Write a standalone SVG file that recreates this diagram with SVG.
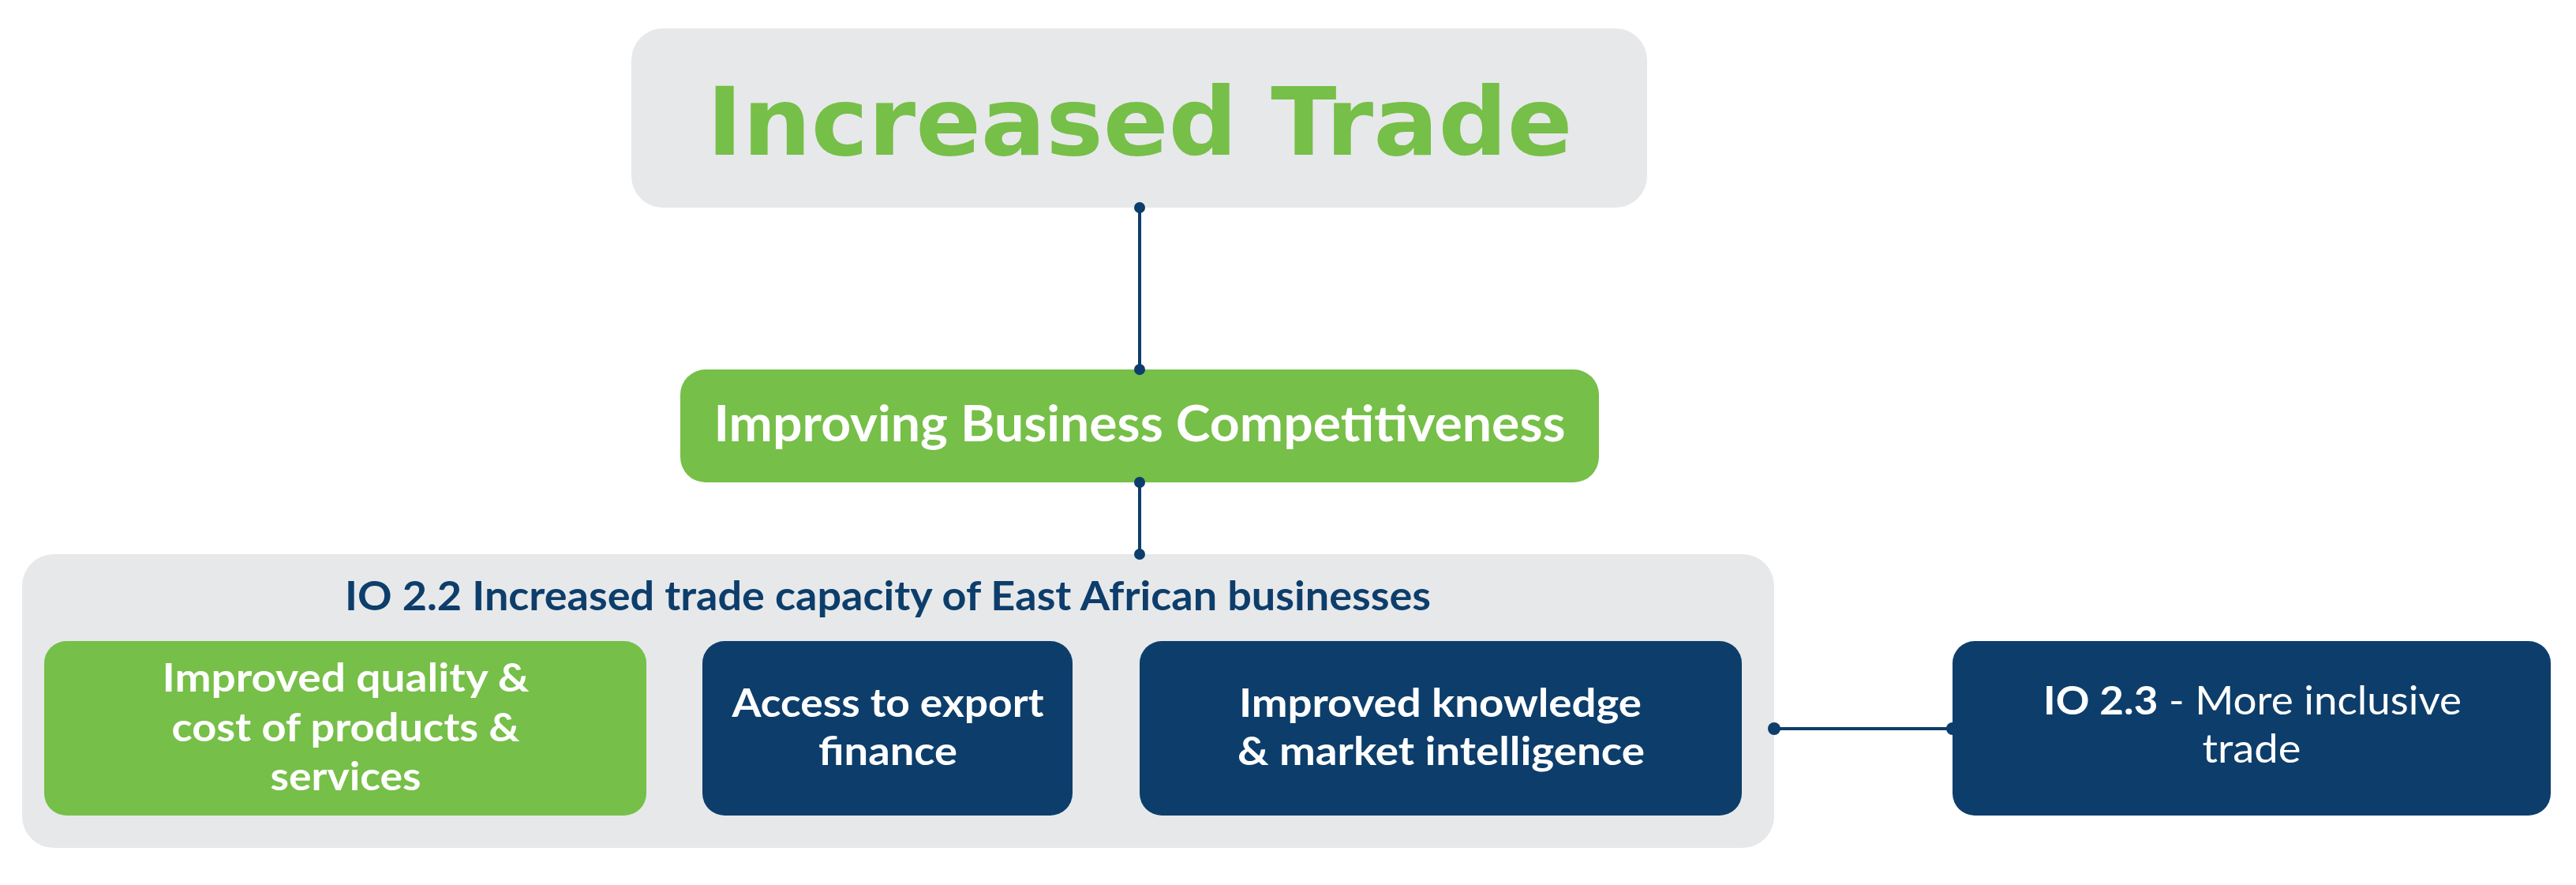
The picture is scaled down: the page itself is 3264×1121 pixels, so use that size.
<svg xmlns="http://www.w3.org/2000/svg" width="3264" height="1121" viewBox="0 0 3264 1121">
<style>
.grey{fill:#e7e8ea}
.green{fill:#76bf48}
.navy{fill:#0d3e6b}
.lbl{font-family:Lato,"Open Sans","Liberation Sans",sans-serif;font-weight:bold;fill:#ffffff;text-anchor:middle}
.conn{stroke:#0d3e6b;stroke-width:4;fill:none}
.dot{fill:#0d3e6b}
</style>
<rect width="3264" height="1121" fill="#ffffff"/>
<g id="node-increased-trade">
<rect class="grey" x="800" y="36" width="1287" height="227" rx="40" ry="40"/>
<text x="1444" y="196" font-family="DejaVu Sans,Verdana,sans-serif" font-weight="bold" font-size="120" fill="#76bf48" text-anchor="middle" textLength="1097" lengthAdjust="spacingAndGlyphs">Increased Trade</text>
</g>
<g id="node-competitiveness">
<rect class="green" x="862" y="468" width="1164" height="143" rx="32" ry="32"/>
<text class="lbl" x="1444" y="559" font-size="64" textLength="1079" lengthAdjust="spacingAndGlyphs">Improving Business Competitiveness</text>
</g>
<g id="node-io22">
<rect class="grey" x="28" y="702" width="2220" height="372" rx="40" ry="40"/>
<text class="lbl" x="1125" y="773" font-size="51" style="fill:#0d3e6b" textLength="1376" lengthAdjust="spacingAndGlyphs">IO 2.2 Increased trade capacity of East African businesses</text>
</g>
<g id="node-quality">
<rect class="green" x="56" y="812" width="763" height="221" rx="28" ry="28"/>
<text class="lbl" x="438" y="876" font-size="50" textLength="465" lengthAdjust="spacingAndGlyphs">Improved quality &amp;</text>
<text class="lbl" x="438" y="939" font-size="50" textLength="441" lengthAdjust="spacingAndGlyphs">cost of products &amp;</text>
<text class="lbl" x="438" y="1001" font-size="50" textLength="191" lengthAdjust="spacingAndGlyphs">services</text>
</g>
<g id="node-finance">
<rect class="navy" x="890" y="812" width="469" height="221" rx="28" ry="28"/>
<text class="lbl" x="1125" y="908" font-size="50" textLength="395" lengthAdjust="spacingAndGlyphs">Access to export</text>
<text class="lbl" x="1125" y="969" font-size="50" textLength="176" lengthAdjust="spacingAndGlyphs">finance</text>
</g>
<g id="node-knowledge">
<rect class="navy" x="1444" y="812" width="763" height="221" rx="28" ry="28"/>
<text class="lbl" x="1825" y="908" font-size="50" textLength="510" lengthAdjust="spacingAndGlyphs">Improved knowledge</text>
<text class="lbl" x="1826" y="969" font-size="50" textLength="516" lengthAdjust="spacingAndGlyphs">&amp; market intelligence</text>
</g>
<g id="node-io23">
<rect class="navy" x="2474" y="812" width="758" height="221" rx="28" ry="28"/>
<text class="lbl" x="2854" y="905" font-size="50" textLength="530" lengthAdjust="spacingAndGlyphs">IO 2.3<tspan font-weight="normal"> - More inclusive</tspan></text>
<text class="lbl" x="2853" y="966" font-size="50" font-weight="normal" style="font-weight:normal" textLength="125" lengthAdjust="spacingAndGlyphs">trade</text>
</g>
<g id="connectors">
<line class="conn" x1="1444" y1="263" x2="1444" y2="468"/>
<circle class="dot" cx="1444" cy="263" r="7"/>
<circle class="dot" cx="1444" cy="468" r="7"/>
<line class="conn" x1="1444" y1="611" x2="1444" y2="702"/>
<circle class="dot" cx="1444" cy="611" r="7"/>
<circle class="dot" cx="1444" cy="702" r="7"/>
<line class="conn" x1="2248" y1="923" x2="2474" y2="923"/>
<circle class="dot" cx="2248" cy="923" r="8"/>
<circle class="dot" cx="2474" cy="923" r="8"/>
</g>
</svg>
